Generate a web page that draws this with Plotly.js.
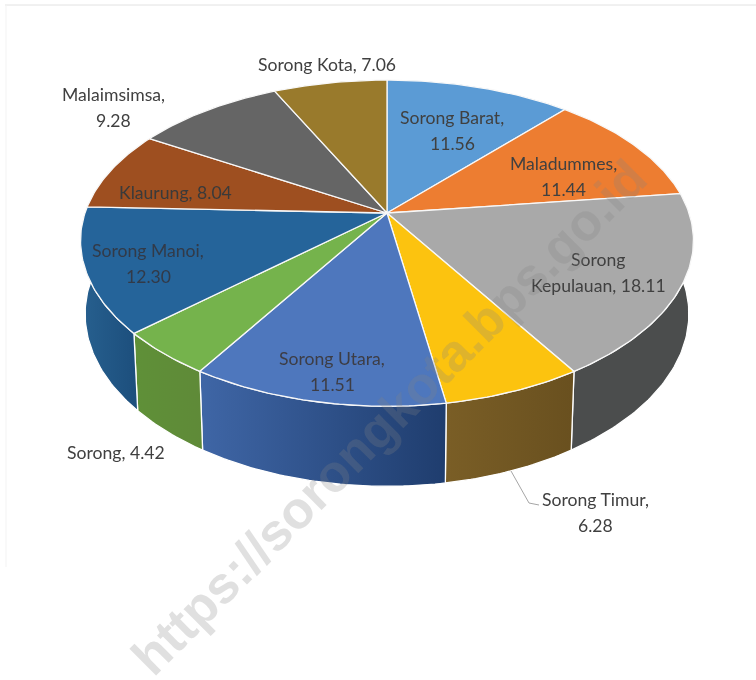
<!DOCTYPE html>
<html>
<head>
<meta charset="utf-8">
<script src="https://cdn.plot.ly/plotly-3.0.1.min.js"></script>
<style>
html,body{margin:0;padding:0;background:#fff;overflow:hidden}
#chart{width:756px;height:680px;filter:blur(0.5px)}
</style>
</head>
<body>
<div id="chart"></div>
<script>
// Data
const categories = ["Sorong Barat","Maladummes","Sorong Kepulauan","Sorong Timur","Sorong Utara","Sorong","Sorong Manoi","Klaurung","Malaimsimsa","Sorong Kota"];
const values = [11.56,11.44,18.11,6.28,11.51,4.42,12.30,8.04,9.28,7.06];

// Styles
const topColors = ["#5b9bd5","#ed7d31","#a9a9a9","#fcc30f","#4e77bd","#75b34c","#25649a","#9e4f20","#656565","#997a2c"];
const sideLeft  = ["#3f6f9e","#a85a22","#4b4d4d","#7a5e26","#3f66a6","#5f9038","#27608f","#70381a","#444444","#6d5720"];
const sideRight = ["#3f6f9e","#a85a22","#4b4d4d","#69501f","#1f3d6e","#5f8a38","#1c4e7c","#70381a","#444444","#6d5720"];
const labelBreak = ["comma","comma","space","comma","comma","none","comma","none","comma","none"];
const labelColor = ["#404040","#404040","#404040","#404040","#3d3d45","#404040","#323a48","#3a3a3a","#404040","#404040"];
const labelAt = [[452,130],[563,176],[598,272],[595,512],[332,371],[116,452],[148,263],[175,192],[113,107],[327,64]];
const lineGap = 26;

// Perspective model of the tilted pie
const view = {cx:387, cy:213, a:302, b:157.5, k:0.185, kx:0.17, depth0:72, depth1:8, inset:0.985};
function project(theta, lower){
  const u=Math.sin(theta), v=Math.cos(theta), w=1+view.k*v;
  const x=view.a*u/(1+view.kx*v), y=-view.b*v/w;
  return lower ? [view.cx+x*view.inset, view.cy+y+view.depth0-view.depth1*v] : [view.cx+x, view.cy+y];
}
function arc(t0,t1,lower){
  const n=Math.max(2,Math.ceil(Math.abs(t1-t0)/0.015)), pts=[];
  for(let i=0;i<=n;i++) pts.push(project(t0+(t1-t0)*i/n,lower));
  return pts;
}
const total = values.reduce((s,d)=>s+d,0);
let acc=0;
const spans = values.map(d=>{const s=[acc/total*2*Math.PI,(acc+d)/total*2*Math.PI];acc+=d;return s;});

const sideTraces = spans.map((s,i)=>{
  const pts=[...arc(s[0],s[1],false),...arc(s[1],s[0],true)];
  pts.push(pts[0]);
  return {type:"scatter",mode:"lines",x:pts.map(p=>p[0]),y:pts.map(p=>p[1]),
    fill:"toself",line:{color:"#ffffff",width:1.3},hoverinfo:"skip",showlegend:false,
    fillgradient:{type:"horizontal",colorscale:[[0,sideLeft[i]],[1,sideRight[i]]]}};
});
const topTraces = spans.map((s,i)=>{
  const pts=[[view.cx,view.cy],...arc(s[0],s[1],false),[view.cx,view.cy]];
  return {type:"scatter",mode:"lines",x:pts.map(p=>p[0]),y:pts.map(p=>p[1]),
    fill:"toself",fillcolor:topColors[i],line:{color:"#f8f8f8",width:1.3},
    name:categories[i],text:categories[i]+", "+values[i].toFixed(2),hoverinfo:"text",showlegend:false};
});

function labelLines(i){
  const val=values[i].toFixed(2), name=categories[i];
  if(labelBreak[i]==="comma") return [name+",",val];
  if(labelBreak[i]==="space"){const p=name.split(" ");return [p[0],p[1]+", "+val];}
  return [name+", "+val];
}
const labelFont="Lato, 'Open Sans', sans-serif";
const annotations = [];
categories.forEach((c,i)=>{
  const lines=labelLines(i);
  lines.forEach((t,j)=>annotations.push({
    xref:"x",yref:"y",x:labelAt[i][0],y:labelAt[i][1]+(j-(lines.length-1)/2)*lineGap,showarrow:false,
    text:t,font:{family:labelFont,size:17.6,color:labelColor[i]},align:"center",xanchor:"center",yanchor:"middle"
  }));
});
annotations.push({xref:"x",yref:"y",x:389,y:417,showarrow:false,textangle:-45,
  text:"https://sorongkota.bps.go.id",
  font:{family:"'Liberation Sans',Arial,sans-serif",size:52,color:"rgba(130,130,130,0.25)",weight:700},
  xanchor:"center",yanchor:"middle"});

const layout = {
  width:756,height:680,margin:{l:0,r:0,t:0,b:0},
  paper_bgcolor:"#fff",plot_bgcolor:"#fff",showlegend:false,
  xaxis:{range:[0,756],visible:false,fixedrange:true},
  yaxis:{range:[680,0],visible:false,fixedrange:true},
  annotations,
  shapes:[
    {type:"line",xref:"x",yref:"y",x0:5,x1:756,y0:5,y1:5,line:{color:"#e2e2e2",width:1}},
    {type:"line",xref:"x",yref:"y",x0:6,x1:6,y0:5,y1:567,line:{color:"#f3f3f3",width:1}},
    {type:"path",xref:"x",yref:"y",path:"M511,471 L529,503 L539,505",line:{color:"#a6a6a6",width:1}}
  ]
};
Plotly.newPlot("chart",[...sideTraces,...topTraces],layout,{staticPlot:true,displayModeBar:false});
</script>
</body>
</html>
